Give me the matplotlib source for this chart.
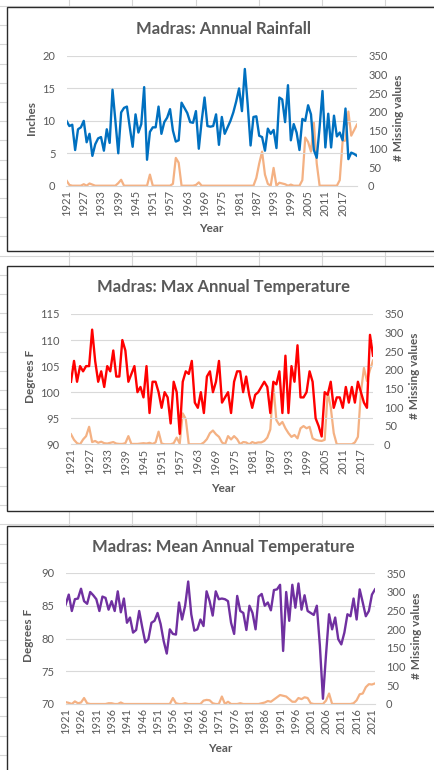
import numpy as np
import matplotlib.pyplot as plt
from matplotlib.lines import Line2D
from matplotlib.patches import Rectangle

plt.rcParams['font.family'] = ['Lato', 'DejaVu Sans']

# ---- data ----
years = np.arange(1921, 2023)
years_max = np.arange(1921, 2022)

rain = [10.0, 9.2, 9.4, 5.5, 8.7, 9.0, 10.0, 6.7, 8.0, 4.6,
        6.4, 7.3, 7.5, 5.4, 8.7, 6.6, 14.8, 10.0, 5.0, 11.3,
        12.0, 12.2, 9.0, 6.0, 11.0, 8.2, 9.5, 15.2, 4.0, 8.3,
        9.0, 9.0, 12.2, 8.0, 9.8, 10.5, 11.8, 8.5, 6.8, 7.0,
        12.8, 12.0, 11.2, 9.8, 9.7, 11.5, 5.7, 10.0, 13.6, 9.2,
        9.1, 9.2, 11.0, 6.3, 10.6, 8.0, 9.0, 10.0, 11.3, 13.0,
        15.0, 11.5, 18.0, 12.5, 6.2, 10.6, 10.7, 7.7, 7.5, 5.4,
        8.8, 8.0, 8.6, 5.8, 13.6, 13.3, 9.8, 15.5, 7.0, 9.5,
        8.2, 5.5, 10.3, 10.0, 12.4, 11.0, 5.5, 4.3, 9.0, 14.6,
        5.9, 11.1, 5.9, 10.8, 7.6, 8.2, 7.0, 11.9, 4.1, 5.1,
        4.9, 4.6]
rain_missing = [14, 2, 0, 0, 0, 0, 4, 0, 6, 3,
                0, 0, 0, 0, 0, 0, 0, 0, 7, 16,
                0, 0, 0, 0, 0, 0, 0, 0, 0, 30,
                0, 0, 0, 0, 0, 0, 0, 5, 75, 62,
                0, 0, 0, 0, 0, 2, 9, 0, 0, 0,
                0, 0, 0, 0, 0, 0, 0, 0, 0, 0,
                0, 0, 0, 0, 0, 0, 21, 60, 92, 30,
                5, 0, 48, 0, 8, 6, 4, 0, 3, 0,
                0, 0, 15, 130, 118, 92, 170, 60, 0, 0,
                0, 0, 0, 0, 0, 15, 120, 122, 200, 135,
                150, 165]

tmax = [102, 106, 102, 105, 104, 105, 105, 112, 106, 102,
        104, 101, 105, 104, 108, 103, 103, 110, 108, 102,
        103.5, 105, 100, 101, 99, 105, 96, 102, 102, 100,
        97, 100, 99, 94, 102, 100, 92, 102, 104, 103.5,
        106, 98, 97, 100, 96, 103, 104, 100, 102, 106,
        98, 99, 100, 96, 102, 104, 104, 100, 103, 99.5,
        97, 99.5, 100, 101, 102, 101, 96, 102, 101.5, 104,
        96, 107, 96, 105, 102, 109, 99, 99, 100, 104,
        102, 95, 93.5, 91.5, 100, 99.5, 102, 97, 99, 99,
        97, 101, 98, 101, 98, 102, 100, 98, 97, 111,
        107]
tmax_missing = [27, 12, 3, 0, 13, 22, 47, 6, 9, 4,
                7, 3, 2, 4, 6, 2, 1, 1, 3, 22,
                1, 1, 1, 2, 3, 2, 4, 1, 5, 34,
                2, 0, 0, 0, 3, 18, 2, 83, 68, 0,
                0, 0, 0, 0, 5, 14, 30, 37, 27, 20,
                5, 0, 22, 13, 22, 14, 0, 6, 5, 0,
                6, 3, 5, 5, 9, 18, 40, 160, 65, 52,
                60, 43, 30, 20, 25, 16, 43, 49, 43, 47,
                16, 12, 10, 9, 12, 140, 100, 30, 0, 0,
                0, 0, 0, 0, 5, 20, 140, 205, 170, 200,
                225]

tmean = [85.2, 86.7, 84.2, 86.0, 86.1, 87.6, 85.7, 85.3, 87.1, 86.6,
         86.0, 84.2, 86.4, 86.2, 84.4, 85.7, 84.2, 87.2, 84.0, 86.1,
         82.4, 83.2, 80.9, 81.3, 84.2, 81.7, 79.4, 79.9, 82.4, 82.7,
         83.9, 82.2, 79.6, 77.7, 81.4, 80.7, 80.6, 85.5, 82.9, 85.0,
         88.7, 83.7, 81.2, 81.4, 82.9, 81.9, 87.2, 85.7, 83.5, 87.2,
         86.0, 86.1, 86.0, 85.7, 82.4, 80.7, 86.5, 84.2, 83.9, 81.3,
         85.0, 83.9, 81.4, 86.4, 86.8, 85.0, 85.5, 84.3, 87.4, 87.5,
         88.2, 78.1, 87.1, 82.7, 88.2, 84.7, 88.4, 84.4, 86.6, 84.2,
         83.9, 83.6, 85.0, 78.9, 70.8, 77.5, 83.7, 81.4, 83.2, 79.9,
         79.1, 80.9, 83.7, 83.4, 86.1, 82.9, 87.5, 85.5, 83.4, 84.2,
         86.7, 87.5]
tmean_missing = [5, 3, 0, 7, 2, 4, 16, 2, 0, 0,
                 0, 0, 0, 0, 2, 2, 0, 0, 4, 0,
                 0, 0, 0, 0, 0, 0, 0, 0, 0, 0,
                 0, 0, 0, 0, 0, 16, 2, 0, 0, 2,
                 0, 0, 0, 0, 0, 9, 11, 10, 2, 0,
                 0, 20, 0, 6, 0, 0, 0, 2, 0, 0,
                 0, 0, 0, 0, 2, 4, 8, 6, 12, 18,
                 24, 22, 20, 13, 6, 6, 16, 13, 18, 16,
                 2, 0, 0, 0, 0, 9, 28, 0, 0, 0,
                 0, 0, 0, 0, 2, 10, 26, 28, 45, 53,
                 52, 55]

W, H = 434, 770
GREY = '#595959'
fig = plt.figure(figsize=(W / 100, H / 100), dpi=100)


def fx(px):
    return px / W


def fy(py):
    return 1 - py / H


# spreadsheet cells behind the charts
for x in [69, 132, 196, 259, 322, 385]:
    fig.add_artist(Line2D([fx(x), fx(x)], [0, 1], color='#d6d6d6', lw=0.8,
                          zorder=-3))
for y in np.arange(6, H, 19.2):
    fig.add_artist(Line2D([0, 1], [fy(y), fy(y)], color='#d6d6d6', lw=0.8,
                          zorder=-3))

boxes = [(7, 251), (266, 511), (526, 790)]
for top, bot in boxes:
    fig.add_artist(Rectangle((fx(7), fy(bot)), 1.1, (bot - top) / H,
                             facecolor='white', edgecolor='#2b2b2b', lw=1.0,
                             zorder=-2))


def panel(x, main, miss, color, ylim, yticks, xstep, box, title, ylabel,
          title_y, ylab_x, rlab_x, year_x, year_y):
    left, right, top, bot = box
    ax = fig.add_axes([fx(left), fy(bot), (right - left) / W, (bot - top) / H])
    ax2 = ax.twinx()
    ax.set_zorder(ax2.get_zorder() + 1)
    ax.patch.set_visible(False)
    ax2.patch.set_visible(False)

    ax2.plot(x, miss, color='#F4B183', lw=1.6, solid_joinstyle='round')
    ax.plot(x, main, color=color, lw=1.7, solid_joinstyle='round')

    ax.set_xlim(x[0], x[-1])
    ax.set_ylim(*ylim)
    ax.set_yticks(yticks)
    ax2.set_ylim(0, 350)
    ax2.set_yticks(np.arange(0, 351, 50))
    ax.set_xticks(x[::xstep])
    ax.set_xticklabels([str(v) for v in x[::xstep]], rotation=90)

    ax.grid(axis='y', color='#d9d9d9', lw=0.8)
    ax.yaxis.get_major_ticks()[0].gridline.set_visible(False)
    for a in (ax, ax2):
        for s in a.spines.values():
            s.set_visible(False)
        a.tick_params(length=0, labelsize=8, labelcolor=GREY)
    ax2.spines['bottom'].set_visible(True)
    ax2.spines['bottom'].set_color('#d9d9d9')
    ax2.spines['bottom'].set_linewidth(0.8)
    ax.tick_params(axis='y', pad=8)
    ax2.tick_params(axis='y', pad=8)
    ax.tick_params(axis='x', pad=3)

    cy = (top + bot) / 2 - 3
    fig.text(fx(223), fy(title_y), title, ha='center', va='center',
             fontsize=12, fontweight='bold', color=GREY)
    fig.text(fx(ylab_x), fy(cy), ylabel, ha='center', va='center',
             rotation=90, fontsize=8.5, fontweight='bold', color=GREY)
    fig.text(fx(rlab_x), fy(cy), '# Missing values', ha='center',
             va='center', rotation=90, fontsize=8.5, fontweight='bold',
             color=GREY)
    fig.text(fx(year_x), fy(year_y), 'Year', ha='center', va='center',
             fontsize=8.5, fontweight='bold', color=GREY)


panel(years, rain, rain_missing, '#0070C0', (0, 20), [0, 5, 10, 15, 20], 6,
      (66.5, 357, 56, 185.7), 'Madras: Annual Rainfall', 'Inches',
      29, 31, 399, 211, 229)
panel(years_max, tmax, tmax_missing, '#FF0000', (90, 115),
      [90, 95, 100, 105, 110, 115], 6,
      (71, 373, 314, 444.3), 'Madras: Max Annual Temperature', 'Degrees F',
      287, 31, 415, 223, 488)
panel(years, tmean, tmean_missing, '#7030A0', (70, 90),
      [70, 75, 80, 85, 90], 5,
      (65.7, 375, 573, 704), 'Madras: Mean Annual Temperature', 'Degrees F',
      547, 29, 417, 220, 748)

fig.savefig('out.png', dpi=100)
